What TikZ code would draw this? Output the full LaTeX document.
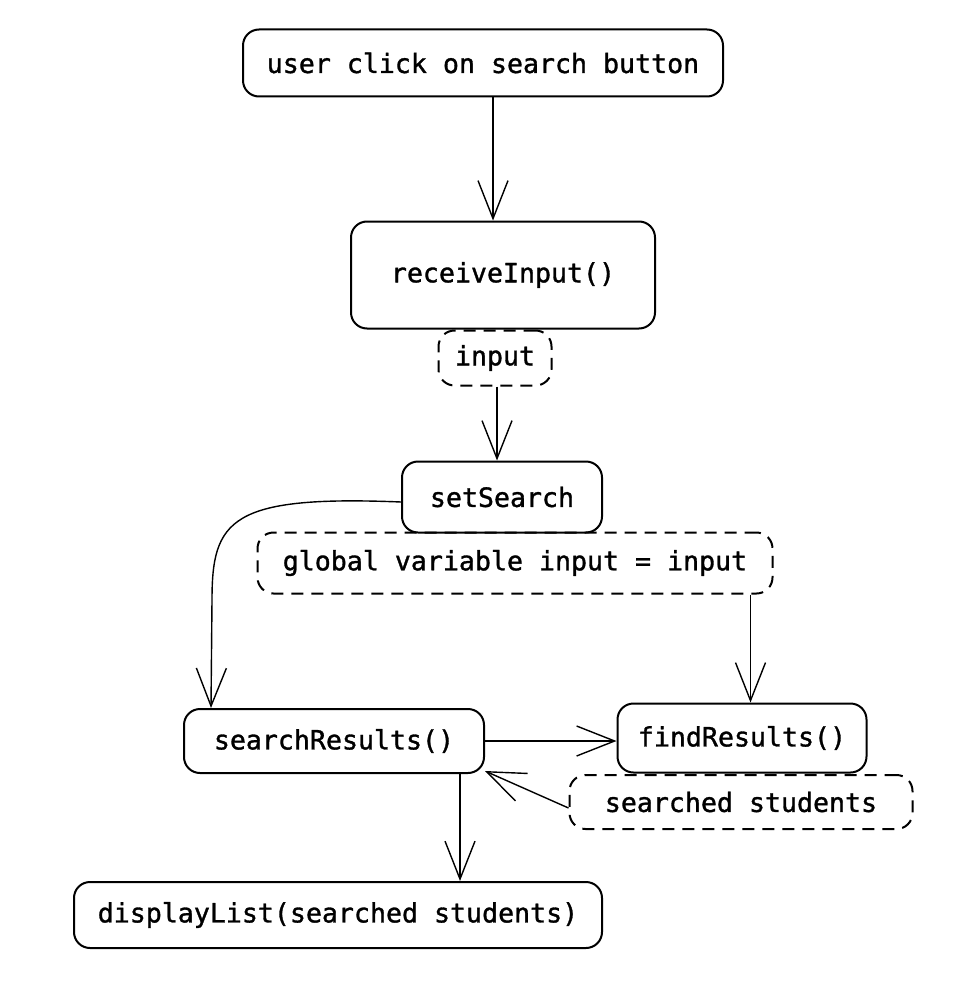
\documentclass[tikz,border=0pt]{standalone}
\usepackage{fontspec}
\newfontfamily\codefont[FakeBold=1.2]{DejaVu Sans Mono}
\usetikzlibrary{arrows.meta}

\tikzset{
  box/.style={draw, line width=1pt, rounded corners=8pt, align=center,
    font=\codefont\fontsize{13.3}{16}\selectfont},
  note/.style={box, dashed, dash pattern=on 6pt off 4pt},
  flow/.style={line width=0.7pt, -{Straight Barb[length=19pt,width=15pt]}}
}

\begin{document}
\begin{tikzpicture}[x=0.5pt, y=-0.5pt]
            \useasboundingbox (0,0) rectangle (976,1006);

            \node (click) [box, minimum width=240pt, minimum height=33.5pt] at (483,63) {user click on search button};
            \node (receive) [box, minimum width=152pt, minimum height=53.5pt] at (503,275) {receiveInput()};
            \node (input) [note, minimum width=56.5pt, minimum height=27.5pt] at (495,358) {input};
            \node (setsearch) [box, minimum width=100pt, minimum height=35.5pt] at (502,497) {setSearch};
            \node (global) [note, minimum width=257.5pt, minimum height=30.5pt] at (515,563) {global variable input = input};
            \node (searchres) [box, minimum width=150pt, minimum height=32pt] at (334,741) {searchResults()};
            \node (findres) [box, minimum width=124.5pt, minimum height=34.5pt] at (742,738) {findResults()};
            \node (students) [note, minimum width=171.5pt, minimum height=27pt] at (741,802) {searched students};
            \node (display) [box, minimum width=264pt, minimum height=33pt] at (338,915) {displayList(searched students)};

            \draw[flow] ([xshift=5pt]click.south) -- ([xshift=5pt]click.south |- receive.north);
            \draw[flow] ([xshift=1pt]input.south) -- ([xshift=1pt]input.south |- setsearch.north);
            \draw[flow] ([yshift=-2.5pt]setsearch.west) .. controls (230,495) and (212,520) .. (212,600)
                -- ([xshift=14pt]searchres.north west);
            \draw[flow] ([xshift=-11.5pt]global.south east) -- ([xshift=-11.5pt]global.south east |- findres.north);
            \draw[flow] (searchres.east) -- (searchres.east -| findres.west);
            \draw[flow] ([yshift=-3pt]students.west) -- ([shift={(0pt,1.5pt)}]searchres.south east);
            \draw[flow] ([xshift=63pt]searchres.south) -- ([xshift=63pt]searchres.south |- display.north);
        \end{tikzpicture}
\end{document}
